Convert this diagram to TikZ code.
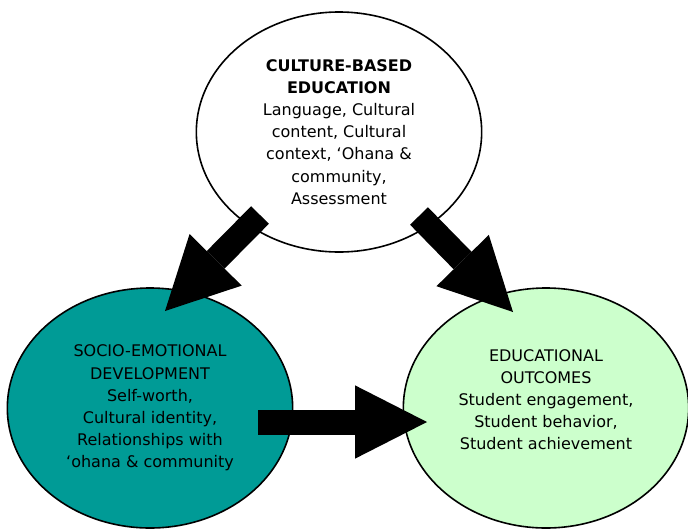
\documentclass[tikz,border=0pt]{standalone}
\usepackage{fontspec}
\setmainfont{DejaVu Sans}
\usetikzlibrary{shapes,arrows.meta}
\definecolor{teal}{RGB}{0,155,150}
\definecolor{mint}{RGB}{204,255,204}

\begin{document}
\begin{tikzpicture}[x=0.75pt,y=-0.75pt,every node/.style = {draw, line width=1.2pt, align=center, shape=ellipse, minimum width=214pt, minimum height=180pt, font=\fontsize{12}{16.6}\selectfont},bigarrow/.style={line width=18.75pt, -{Triangle[length=54pt, width=55pt, line width=0pt]}}]
\useasboundingbox (0,0) rectangle (688,529);
\node[fill=white] (cbe) at (339,132) {\textbf{CULTURE-BASED}\\\textbf{EDUCATION}\\Language, Cultural\\content, Cultural\\context, ‘Ohana \&\\community,\\Assessment};
\node[fill=teal] (sed) at (150,408) {SOCIO-EMOTIONAL\\DEVELOPMENT\\Self-worth,\\Cultural identity,\\Relationships with\\‘ohana \& community};
\node[fill=mint] (out) at (546,408) {EDUCATIONAL\\OUTCOMES\\Student engagement,\\Student behavior,\\Student achievement\\[-4pt]};
% arrow ends
\coordinate (cbeL) at (260,215);
\coordinate (sedIn) at (165,311);
\coordinate (cbeR) at (419,216);
\coordinate (outIn) at (513,312);
\coordinate (sedR) at (258,422);
\coordinate (outL) at (427,422);
\draw[bigarrow] (cbeL) -- (sedIn);
\draw[bigarrow] (cbeR) -- (outIn);
\draw[bigarrow] (sedR) -- (outL);
\end{tikzpicture}
\end{document}
